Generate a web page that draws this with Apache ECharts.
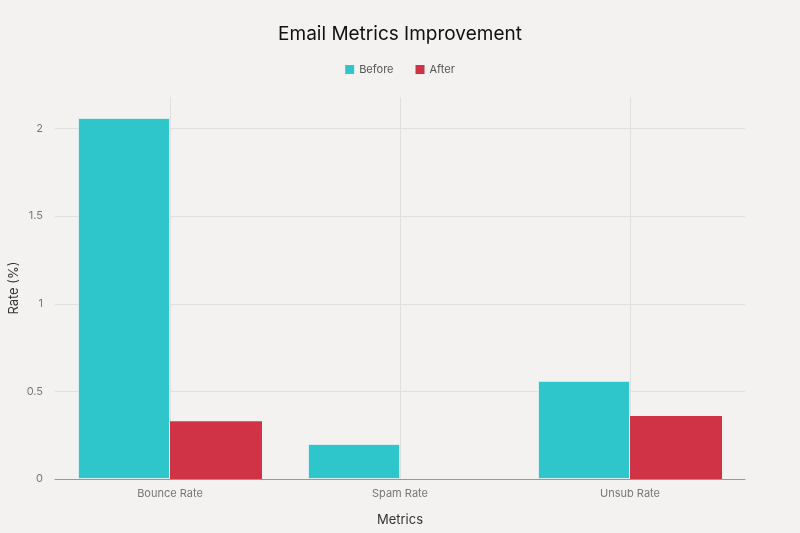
<!DOCTYPE html>
<html>
<head>
<meta charset="utf-8">
<script src="https://cdn.jsdelivr.net/npm/echarts@6/dist/echarts.min.js"></script>
<style>
html,body{margin:0;padding:0;background:#f4f2f0;}
#c{width:800px;height:533px;}
</style>
</head>
<body>
<div id="c"></div>
<script>
const categories = ['Bounce Rate', 'Spam Rate', 'Unsub Rate'];
const beforeValues = [2.06, 0.2, 0.56];
const afterValues = [0.33, 0, 0.36];

const chart = echarts.init(document.getElementById('c'), null, {renderer: 'canvas'});
chart.setOption({
  backgroundColor: '#f4f2f0',
  animation: false,
  textStyle: {fontFamily: 'Inter, "Noto Sans", sans-serif'},
  title: {
    text: 'Email Metrics Improvement',
    left: 'center', top: 20,
    textStyle: {fontSize: 19, fontWeight: 'normal', color: '#111', fontFamily: 'Inter, sans-serif'}
  },
  legend: {
    top: 59, left: 'center',
    itemWidth: 9, itemHeight: 9, itemGap: 22,
    icon: 'rect',
    itemStyle: {borderWidth: 0},
    textStyle: {fontSize: 11, color: '#555'},
    data: ['Before', 'After']
  },
  grid: {left: 55, right: 55, top: 97, bottom: 54, outerBoundsMode: 'none', containLabel: false},
  xAxis: {
    type: 'category',
    data: categories,
    name: 'Metrics',
    nameLocation: 'middle',
    nameGap: 35,
    nameMoveOverlap: false,
    nameTextStyle: {fontSize: 13, color: '#333'},
    axisLine: {lineStyle: {color: '#999'}},
    axisTick: {show: false},
    axisLabel: {fontSize: 11, color: '#777', margin: 9},
    splitLine: {show: true, alignWithLabel: true, lineStyle: {color: '#e2e0de', width: 1}}
  },
  yAxis: {
    type: 'value',
    min: 0, max: 2.18, interval: 0.5,
    name: 'Rate (%)',
    nameLocation: 'middle',
    nameGap: 34,
    nameMoveOverlap: false,
    nameTextStyle: {fontSize: 13, color: '#333'},
    axisLine: {show: false},
    axisTick: {show: false},
    axisLabel: {fontSize: 11, color: '#777', margin: 12, showMaxLabel: false},
    splitLine: {show: true, showMaxLine: false, lineStyle: {color: '#e2e0de', width: 1}}
  },
  series: [
    {
      name: 'Before', type: 'bar', data: beforeValues,
      barGap: 0, barCategoryGap: '20%',
      itemStyle: {color: '#2ec5cb', borderColor: '#d8eeee', borderWidth: 1}
    },
    {
      name: 'After', type: 'bar', data: afterValues,
      barGap: 0, barCategoryGap: '20%',
      itemStyle: {color: '#d03346', borderWidth: 0}
    }
  ]
});
</script>
</body>
</html>
